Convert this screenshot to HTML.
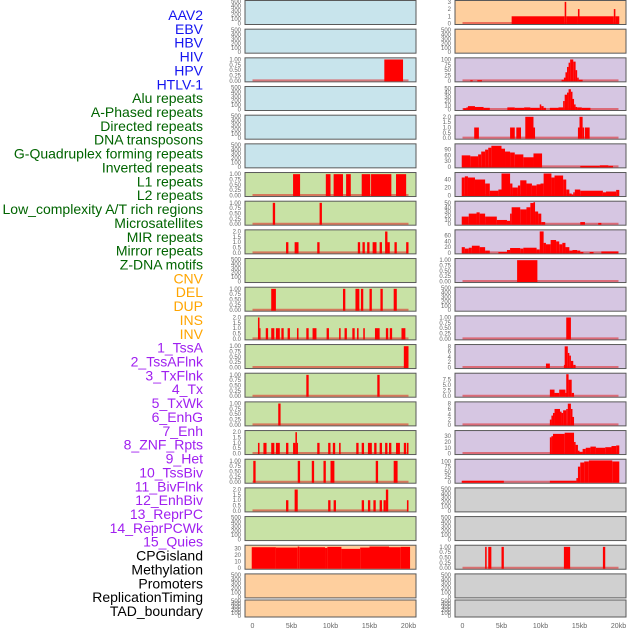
<!DOCTYPE html>
<html><head><meta charset="utf-8"><style>
html,body{margin:0;padding:0;background:#fff;width:630px;height:630px;overflow:hidden}
svg{display:block}
.lbl{font-family:"Liberation Sans",sans-serif;font-size:14px;text-anchor:end}
.tk{font-family:"Liberation Sans",sans-serif;font-size:6px;fill:#666;text-anchor:end}
.xt{font-family:"Liberation Sans",sans-serif;font-size:7px;fill:#666;text-anchor:middle}
</style></head><body>
<svg id="chart" width="630" height="630" viewBox="0 0 630 630"></svg>
<script>
// ---- labels ----
const trackLabels = ["AAV2","EBV","HBV","HIV","HPV","HTLV-1","Alu repeats","A-Phased repeats","Directed repeats","DNA transposons","G-Quadruplex forming repeats","Inverted repeats","L1 repeats","L2 repeats","Low_complexity A/T rich regions","Microsatellites","MIR repeats","Mirror repeats","Z-DNA motifs","CNV","DEL","DUP","INS","INV","1_TssA","2_TssAFlnk","3_TxFlnk","4_Tx","5_TxWk","6_EnhG","7_Enh","8_ZNF_Rpts","9_Het","10_TssBiv","11_BivFlnk","12_EnhBiv","13_ReprPC","14_ReprPCWk","15_Quies","CPGisland","Methylation","Promoters","ReplicationTiming","TAD_boundary"];
const trackGroups = ["v","v","v","v","v","v","r","r","r","r","r","r","r","r","r","r","r","r","r","s","s","s","s","s","c","c","c","c","c","c","c","c","c","c","c","c","c","c","c","o","o","o","o","o"];
// ---- x axis ----
const xTickKb = [0,5,10,15,20];
const xTickLabels = ["0","5kb","10kb","15kb","20kb"];
// ---- tick label sets ----
const T500 = ["0","100","200","300","400","500"];
const T1 = ["0.00","0.25","0.50","0.75","1.00"];
const T2 = ["0.0","0.5","1.0","1.5","2.0"];
// ---- left column series: [startKb, endKb, value] ----
const leftHIV = [[16.9,19.3,1]];
const leftL1 = [[5.2,6.1,1],[9.4,10.0,1],[10.4,11.6,1],[12.0,12.6,1],[14.0,15.1,1],[15.2,17.8,1],[18.4,19.7,1]];
const leftL2 = [[2.6,2.9,1],[8.6,8.9,1]];
const leftLowC = [[4.3,4.6,1],[5.4,5.9,1],[8.3,8.6,1],[13.5,13.8,1],[14.1,14.4,1],[14.7,15.0,1],[15.4,15.9,1],[16.3,16.6,1],[17.0,17.3,2],[17.3,17.6,1],[18.2,18.5,1],[19.7,20.0,1]];
const leftMicro = [[2.4,3.0,1],[11.6,11.9,1],[13.2,13.7,1],[13.9,14.2,1],[15.0,15.3,1],[16.4,16.7,1],[18.1,18.5,1]];
const leftMIR = [[0.7,0.9,2],[0.9,1.0,1],[1.7,2.0,1],[2.4,2.8,1],[3.0,3.5,1],[3.7,4.0,1],[4.5,4.8,1],[5.7,5.9,1],[6.9,7.2,1],[7.7,8.2,1],[9.5,9.8,1],[11.1,11.3,1],[11.8,12.1,1],[12.8,13.1,1],[13.4,13.6,1],[14.2,14.4,1],[15.7,16.3,1],[17.1,17.4,1],[17.6,17.9,1],[19.1,19.6,1]];
const leftMirror = [[19.4,20.0,1]];
const leftZDNA = [[6.9,7.2,1],[16.0,16.3,1]];
const leftCNV = [[3.3,3.6,1]];
const leftDEL = [[0.7,0.9,1],[1.4,1.8,1],[2.4,2.8,1],[3.0,3.5,1],[4.3,4.6,1],[5.2,5.5,1],[5.5,5.7,2],[5.7,5.8,1],[8.3,8.6,1],[9.7,10.0,1],[10.3,10.6,1],[11.1,11.3,1],[13.3,13.6,1],[14.0,14.3,1],[14.8,15.3,1],[15.6,15.9,1],[16.3,16.6,1],[17.0,17.3,1],[17.5,17.8,1],[18.4,18.9,1],[19.4,19.7,1],[19.8,20.0,1]];
const leftDUP = [[0.1,0.4,1],[5.8,6.1,1],[7.6,7.9,1],[9.1,9.4,1],[10.0,10.5,1],[15.8,16.1,1],[18.1,18.6,1]];
const leftINS = [[4.3,4.6,1],[5.4,5.8,2],[9.7,10.0,1],[10.4,10.7,1],[14.0,14.3,1],[14.8,15.1,1],[15.5,15.8,1],[16.3,16.6,1],[16.8,17.1,1],[17.1,17.4,2],[19.8,20.0,1]];
const leftCPG = [[-0.1,3.0,32],[3.0,5.8,31.5],[5.8,6.0,33],[6.0,9.3,32],[9.3,9.6,31],[9.6,11.4,32.5],[11.4,13.8,29.5],[13.8,15.0,31.5],[15.0,17.5,33],[17.5,19.0,32],[19.0,20.2,32.5]];
// ---- right column series ----
const rightAAV = [[6.3,13.1,1],[13.1,13.3,3],[13.3,14.8,1],[14.8,15.0,2],[15.0,19.4,1],[19.4,19.6,2],[19.6,20.1,1]];
const rightHIV = [[1.0,1.3,3],[1.9,2.5,3],[12.7,13.0,5],[13.0,13.2,15],[13.2,13.4,40],[13.4,13.6,65],[13.6,13.8,85],[13.8,14.2,100],[14.2,14.5,90],[14.5,14.7,50],[14.7,14.9,15],[14.9,15.4,5]];
const rightAlu = [[0.1,0.5,3],[0.5,0.7,5],[0.7,1.6,8],[1.6,2.7,6],[2.7,3.5,4],[5.75,6.7,5],[6.7,7.9,4],[7.9,8.7,5],[8.7,9.9,4],[9.9,10.1,12],[10.1,10.4,8],[10.4,10.7,4],[11.2,12.3,4],[12.3,12.9,5],[12.9,13.1,20],[13.1,13.4,35],[13.4,13.6,40],[13.6,13.9,48],[13.9,14.1,42],[14.1,14.3,25],[14.3,14.5,12],[14.5,14.7,6],[14.7,15.3,5],[15.3,16.4,4]];
const rightAPhased = [[1.5,2.1,1],[6.1,6.7,1],[6.9,7.5,1],[8.05,9.1,2],[9.1,9.3,1],[14.8,15.0,1],[15.0,15.4,2],[15.4,15.6,1],[15.7,16.3,1]];
const rightGQuad = [[-0.1,1.0,60],[1.0,2.0,55],[2.0,2.4,65],[2.4,2.9,80],[2.9,3.3,90],[3.3,3.7,100],[3.7,5.0,110],[5.0,5.45,95],[5.45,6.1,80],[6.1,6.7,75],[6.7,7.8,65],[7.8,9.1,50],[9.1,10.2,70],[15.1,17.6,5],[17.6,18.7,8],[18.7,19.3,5]];
const rightInv = [[-0.1,0.3,45],[0.3,0.7,48],[0.7,1.6,45],[1.6,2.9,40],[2.9,3.5,30],[3.5,4.6,12],[4.6,5.0,15],[5.0,6.1,55],[6.1,6.4,30],[6.4,7.1,20],[7.1,7.4,25],[7.4,8.2,38],[8.2,8.9,30],[8.9,9.5,25],[9.5,10.0,28],[10.0,10.4,30],[10.4,11.4,55],[11.4,11.8,45],[11.8,12.9,50],[12.9,13.3,40],[13.3,13.7,15],[13.7,14.0,5],[14.0,14.2,2],[14.2,14.4,8],[14.4,15.1,15],[15.1,18.0,12],[18.0,18.4,8],[18.4,19.7,10],[19.7,20.1,14]];
const rightL1 = [[-0.1,0.8,18],[0.8,1.8,25],[1.8,2.2,28],[2.2,2.9,25],[2.9,4.4,18],[4.4,5.7,10],[5.7,6.1,8],[6.1,6.3,25],[6.3,7.4,40],[7.4,8.2,35],[8.2,8.7,40],[8.7,9.1,50],[9.1,9.3,52],[9.3,9.7,30],[9.7,10.1,25],[10.1,10.6,5],[15.1,15.7,5],[17.4,17.8,3]];
const rightL2 = [[-0.1,0.3,20],[0.3,0.8,15],[0.8,1.2,18],[1.2,2.2,25],[2.2,2.9,20],[2.9,3.5,8],[4.6,5.7,3],[5.7,6.1,10],[6.1,7.4,17],[7.4,7.8,15],[7.8,9.5,18],[9.5,9.9,12],[9.9,10.4,75],[10.4,10.7,35],[10.7,11.3,30],[11.3,12.0,45],[12.0,12.4,40],[12.4,12.8,30],[12.8,13.2,35],[13.2,13.7,20],[13.7,14.1,8],[14.1,14.7,10],[14.7,15.1,8],[15.1,15.5,3],[16.3,16.8,3],[17.8,20.0,5]];
const rightLowC = [[7.0,9.6,1]];
const rightMicro = [[13.3,13.9,1]];
const rightMIR = [[10.7,11.2,1.5],[13.0,13.1,1],[13.1,13.5,8],[13.5,13.7,5.5],[13.7,13.9,4.5],[13.9,14.2,2.5],[14.2,14.5,1]];
const rightMirror = [[11.2,11.8,3],[11.8,12.4,1.5],[12.4,13.2,3],[13.2,13.5,1.5],[13.3,13.6,10],[13.6,14.0,7.5],[14.0,14.3,1.5]];
const rightZDNA = [[11.2,11.4,2],[11.4,11.6,3.5],[11.6,11.8,4.5],[11.8,12.5,6],[12.5,12.7,5],[12.7,12.9,4.5],[12.9,13.3,5.5],[13.3,13.5,6],[13.5,13.9,8],[13.9,14.1,6],[14.1,14.3,3]];
const rightCNV = [[11.2,11.4,28],[11.4,11.6,30],[11.6,13.1,34],[13.1,14.3,36],[14.3,14.5,20],[14.5,14.8,15],[14.8,15.0,5],[15.0,15.4,3],[15.4,15.8,8],[15.8,16.4,10],[16.4,17.1,12],[17.1,18.3,10],[18.3,19.1,11],[19.1,19.7,13],[19.7,20.1,14]];
const rightDEL = [[-0.1,5.3,7],[11.2,14.6,7],[14.6,14.8,20],[14.8,15.1,75],[15.1,15.6,95],[15.6,16.2,100],[16.2,19.2,105],[19.2,20.1,100]];
const rightCPG = [[2.9,3.1,1],[3.3,3.7,1],[5.0,5.3,1],[13.0,13.8,1],[18.0,18.3,1]];

const BG = {b:"#c8e4ec",g:"#c8e2a5",o:"#fecf9e",p:"#d6c6e2",y:"#d0d0d0"};
// panel layout: [bg, ticks, ymax, series or null, baseline]
const leftPanels = [
 ["b",T500,500,null],["b",T500,500,null],["b",T1,1.03,leftHIV],["b",T500,500,null],["b",T500,500,null],["b",T500,500,null],
 ["g",T1,1.03,leftL1],["g",T1,1.03,leftL2],["g",T2,2.06,leftLowC],["g",T500,500,null],["g",T1,1.03,leftMicro],["g",T2,2.06,leftMIR],
 ["g",T1,1.03,leftMirror],["g",T1,1.03,leftZDNA],["g",T1,1.03,leftCNV],["g",T2,2.06,leftDEL],["g",T1,1.03,leftDUP],["g",T2,2.06,leftINS],
 ["g",T500,500,null],["o",["0","10","20","30"],33.5,leftCPG,false],["o",T500,500,null],["o",T500,500,null]];
const rightPanels = [
 ["o",["0","1","2","3"],3.05,rightAAV],["o",T500,500,null],["p",["0","25","50","75","100"],103,rightHIV],["p",["0","10","20","30","40","50"],52,rightAlu],
 ["p",T2,2.06,rightAPhased],["p",["0","30","60","90"],115,rightGQuad],["p",["0","20","40"],55,rightInv],["p",["0","10","20","30","40","50"],52,rightL1],
 ["p",["0","20","40","60"],77,rightL2],["p",T1,1.03,rightLowC],["p",T500,500,null],["p",T1,1.03,rightMicro],["p",["0","2","4","6","8"],8.3,rightMIR],
 ["p",["0.0","2.5","5.0","7.5"],10,rightMirror],["p",["0","2","4","6","8"],8.3,rightZDNA],["p",["0","10","20","30"],38,rightCNV],["p",["0","25","50","75","100"],106,rightDEL],
 ["y",T500,500,null],["y",T500,500,null],["y",T1,1.03,rightCPG],["y",T500,500,null],["y",T500,500,null]];

const NS="http://www.w3.org/2000/svg";
const svg=document.getElementById('chart');
function mk(tag,attrs,parent){const e=document.createElementNS(NS,tag);for(const k in attrs)e.setAttribute(k,attrs[k]);(parent||svg).appendChild(e);return e;}
const COLORS={v:"#1414f0",r:"#006400",s:"#ffa500",c:"#a020f0",o:"#000"};
trackLabels.forEach((t,i)=>{
 const e=mk('text',{x:203,y:20+i*(596/43),class:'lbl',fill:COLORS[trackGroups[i]]});
 e.textContent=t;
 
 
});
function rowTop(i){return i===21?600:0.5+i*28.67;}
function rowH(i){return i===21?17:24;}
function drawCol(panels,x0,side){
 const xs=kb=>x0+7.8*kb;
 panels.forEach((p,i)=>{
  const [bg,ticks,ymax,series,baseline]=p;
  const t=rowTop(i),h=rowH(i);
  const g=mk('g',{});
  
  
  const ys=v=>t+h-1-(v/ymax)*(h-2);
  mk('rect',{x:x0-7.5,y:t,width:171,height:h,fill:BG[bg],stroke:'#5a5a5a','stroke-width':1},g);
  ticks.forEach(s=>{const e=mk('text',{x:x0-11.5,y:ys(parseFloat(s))+2,class:'tk'},g);e.textContent=s;
   });
  if(series){
   if(baseline!==false){const bl=mk('line',{x1:xs(0),x2:xs(20),y1:t+h-1.5,y2:t+h-1.5,stroke:'#e02020','stroke-opacity':0.55,'stroke-width':2},g);
    }
   series.forEach(d=>{const y=ys(d[2]);const r=mk('rect',{x:xs(d[0]),y:y,width:Math.max(1,xs(d[1])-xs(d[0])),height:t+h-0.5-y,fill:'#ff0000'},g);
    });
  }
 });
 xTickKb.forEach((k,j)=>{const e=mk('text',{x:xs(k),y:628,class:'xt'});e.textContent=xTickLabels[j];
  });
}
drawCol(leftPanels,252.5,'left');
drawCol(rightPanels,462.5,'right');
</script>
</body></html>
